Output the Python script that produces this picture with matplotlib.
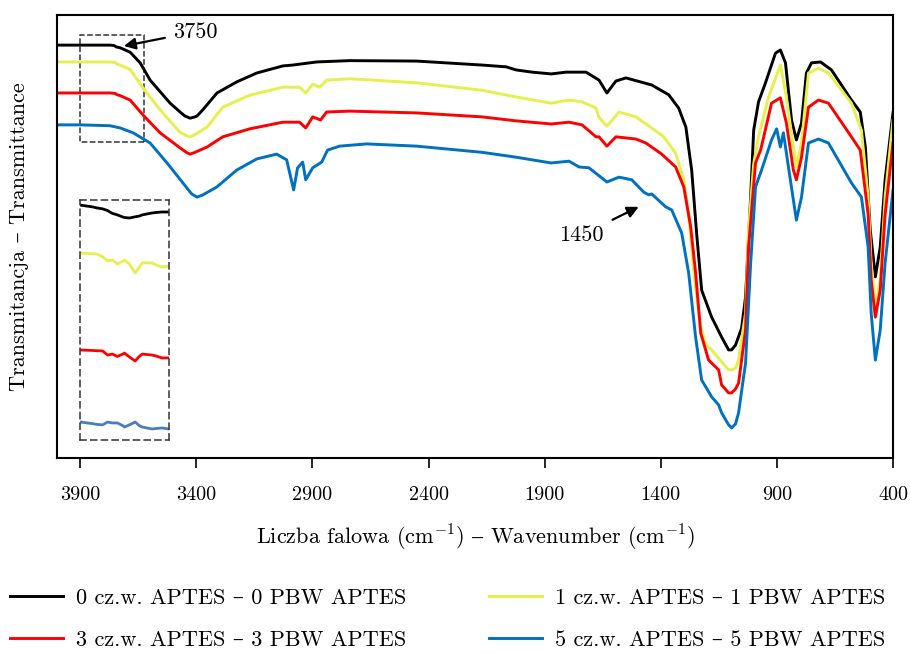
import matplotlib
matplotlib.use('Agg')
import matplotlib.pyplot as plt
from matplotlib.patches import Rectangle

plt.rcParams['font.family'] = ['cmr10', 'DejaVu Serif']
plt.rcParams['mathtext.fontset'] = 'cm'
plt.rcParams['axes.unicode_minus'] = False

# wavenumber (cm-1) and transmittance (a.u.)
wn_0 = [4000, 3900, 3771, 3754, 3745, 3728, 3685, 3642, 3599, 3513, 3470, 3449, 3427, 3406,
        3397, 3372, 3311, 3226, 3140, 3028, 2985, 2882, 2740, 2452, 2169, 2066, 2023, 1954,
        1872, 1808, 1722, 1666, 1632, 1593, 1550, 1439, 1366, 1323, 1292, 1267, 1245, 1224,
        1181, 1138, 1108, 1095, 1078, 1052, 1035, 1013, 1000, 979, 949, 906, 885, 863, 837,
        816, 794, 773, 751, 712, 665, 579, 541, 519, 498, 476, 455, 434, 400]
t_0 = [93.2, 93.2, 93.2, 93.1, 92.8, 92.6, 91.6, 89.2, 85.3, 80.1, 78.1, 77.2, 76.7, 77.0,
       77.2, 78.6, 82.4, 84.9, 86.9, 88.5, 88.7, 89.4, 89.7, 89.6, 88.7, 88.3, 87.6, 87.1,
       86.7, 87.1, 87.1, 85.3, 82.4, 85.1, 85.8, 84.2, 82.0, 79.0, 74.7, 65.0, 50.3, 37.9,
       31.8, 27.3, 24.4, 24.4, 25.5, 29.3, 36.3, 58.9, 74.0, 80.4, 84.7, 91.4, 92.1, 89.2, 76.3,
       71.8, 75.6, 86.9, 89.2, 89.4, 87.6, 80.8, 78.1, 70.2, 51.5, 40.9, 47.6, 62.8, 77.9]

wn_1 = [4000, 3900, 3771, 3750, 3741, 3728, 3685, 3629, 3556, 3470, 3440, 3427, 3410, 3354,
        3286, 3170, 3028, 2955, 2929, 2899, 2869, 2839, 2740, 2452, 2169, 2023, 1872, 1795,
        1739, 1679, 1666, 1632, 1580, 1507, 1439, 1387, 1336, 1301, 1280, 1258, 1228, 1207,
        1181, 1138, 1108, 1095, 1078, 1065, 1035, 1022, 1000, 979, 936, 885, 859, 829, 816,
        794, 764, 721, 678, 579, 536, 507, 494, 476, 455, 434, 400]
t_1 = [89.4, 89.4, 89.4, 89.3, 88.9, 88.7, 87.7, 83.5, 78.6, 73.5, 72.7, 72.5, 72.9, 74.7,
       79.2, 81.9, 83.7, 83.7, 82.4, 84.4, 83.7, 85.3, 85.6, 84.7, 83.0, 81.5, 80.1, 80.8,
       80.4, 79.0, 76.9, 74.9, 78.1, 77.0, 74.5, 72.5, 68.8, 62.8, 55.3, 41.8, 29.6, 25.7,
       24.4, 21.7, 19.9, 19.9, 20.3, 22.1, 32.7, 51.5, 66.4, 72.5, 81.5, 88.7, 81.5, 70.2,
       65.7, 71.1, 86.9, 88.0, 86.9, 80.1, 74.0, 58.9, 44.0, 34.1, 40.2, 58.9, 76.3]

wn_2 = [4000, 3900, 3771, 3750, 3741, 3728, 3685, 3629, 3556, 3470, 3440, 3427, 3410, 3354,
        3286, 3170, 3028, 2955, 2929, 2899, 2865, 2839, 2740, 2452, 2169, 2023, 1872, 1795,
        1739, 1679, 1666, 1632, 1593, 1507, 1464, 1396, 1336, 1301, 1271, 1250, 1228, 1194,
        1151, 1138, 1108, 1095, 1078, 1065, 1035, 1022, 992, 970, 923, 885, 859, 829, 816,
        794, 764, 721, 678, 579, 541, 507, 494, 476, 455, 434, 400]
t_2 = [82.4, 82.4, 82.4, 82.3, 82.0, 81.8, 80.8, 77.4, 73.4, 70.0, 68.9, 68.6, 68.9, 70.2,
       72.5, 74.3, 75.8, 75.8, 74.5, 77.0, 76.3, 78.1, 78.3, 77.9, 77.0, 76.1, 75.4, 75.8,
       75.2, 72.5, 72.5, 70.4, 72.5, 72.0, 71.1, 68.6, 65.7, 61.2, 52.1, 41.8, 28.2, 22.1,
       19.9, 16.5, 14.7, 14.7, 15.6, 16.9, 28.9, 47.6, 66.6, 69.5, 80.1, 81.3, 75.6, 65.0,
       62.8, 67.9, 79.2, 80.8, 80.1, 72.5, 69.5, 55.0, 40.2, 31.8, 37.9, 55.0, 71.1]

wn_3 = [4000, 3900, 3771, 3728, 3672, 3599, 3526, 3458, 3420, 3397, 3375, 3311, 3226, 3140,
        3054, 3011, 2981, 2964, 2942, 2929, 2899, 2860, 2835, 2783, 2667, 2452, 2169, 2023,
        1872, 1795, 1752, 1709, 1632, 1580, 1525, 1473, 1452, 1439, 1379, 1353, 1310, 1280,
        1250, 1224, 1181, 1151, 1138, 1108, 1095, 1078, 1065, 1035, 1013, 992, 966, 923, 901,
        885, 872, 842, 816, 794, 764, 721, 678, 579, 536, 507, 494, 476, 455, 434, 400]
t_3 = [75.2, 75.2, 75.0, 74.5, 73.4, 71.1, 66.6, 62.1, 59.6, 58.9, 59.3, 61.2, 65.0, 67.5,
       68.6, 67.3, 60.5, 65.5, 66.8, 62.8, 65.5, 66.8, 69.5, 70.4, 70.9, 70.4, 69.0, 67.9,
       66.6, 67.0, 65.7, 65.5, 62.3, 63.4, 62.8, 60.0, 59.4, 59.6, 56.7, 56.0, 50.8, 41.8,
       27.3, 17.6, 13.8, 12.0, 10.2, 7.5, 6.8, 7.7, 10.2, 21.4, 44.0, 61.2, 65.0, 71.8, 74.3,
       70.2, 73.4, 62.8, 53.7, 58.9, 71.1, 72.0, 71.1, 62.1, 58.9, 47.6, 32.7, 22.1, 28.9,
       44.0, 60.5]

# magnified 3900-3700 region shown in the inset (a.u.)
ins_wn = [3900, 3871, 3862, 3849, 3838, 3833, 3827, 3816, 3804, 3800, 3789, 3776, 3767,
          3760, 3738, 3729, 3716, 3700]
ins_0 = [97.9, 97.1, 96.7, 96.3, 95.6, 95.0, 94.4, 93.8, 92.9, 92.7, 92.5, 93.0, 93.3,
         93.8, 94.6, 94.8, 95.0, 95.0]
ins_1 = [77.9, 77.6, 77.5, 76.3, 74.6, 74.8, 75.0, 73.3, 74.5, 75.0, 73.3, 69.6, 72.0,
         73.8, 73.8, 72.9, 72.1, 72.5]
ins_2 = [37.5, 37.3, 37.2, 37.1, 35.4, 35.6, 35.8, 34.8, 35.8, 36.2, 34.6, 32.9, 34.8,
         35.8, 35.4, 35.0, 34.2, 34.2]
ins_3 = [7.5, 6.8, 6.5, 6.3, 7.5, 7.3, 7.1, 7.1, 6.0, 5.4, 6.3, 7.5, 6.0, 5.4, 4.6, 4.8,
         5.0, 4.6]

labels = ['0 cz.w. APTES – 0 PBW APTES', '1 cz.w. APTES – 1 PBW APTES',
          '3 cz.w. APTES – 3 PBW APTES', '5 cz.w. APTES – 5 PBW APTES']
colors = ['#000000', '#e6ef4c', '#ff0000', '#0070c0']
ins_colors = ['#000000', '#e6ef4c', '#ff0000', '#4a7ebb']
ticks = [3900, 3400, 2900, 2400, 1900, 1400, 900, 400]

fig = plt.figure(figsize=(9.1, 6.53), dpi=100)
ax = fig.add_axes([57 / 910, 1 - 458 / 653, 836 / 910, 443 / 653])

lines = []
for wn, t, c, lab in zip([wn_0, wn_1, wn_2, wn_3], [t_0, t_1, t_2, t_3], colors, labels):
    ln, = ax.plot(wn, t, color=c, lw=2.1, label=lab, solid_joinstyle='round')
    lines.append(ln)

ax.set_xlim(4000, 400)
ax.set_ylim(0, 100)
ax.set_xticks(ticks)
ax.set_yticks([])
ax.tick_params(axis='x', direction='out', length=7, width=1.2, labelsize=14.5, pad=13)
for s in ax.spines.values():
    s.set_linewidth(1.5)
ax.set_xlabel('Liczba falowa (cm$^{-1}$) $\\endash$ Wavenumber (cm$^{-1}$)',
              fontsize=16, labelpad=14)
ax.set_ylabel('Transmitancja – Transmittance', fontsize=16, labelpad=20)

# dashed box marking the region magnified in the inset
ax.add_patch(Rectangle((3625, 71.3), 275, 24.2, fill=False, ls='--', lw=1.1, ec='#333333'))

ax.annotate('3750', xy=(3712, 93.0), xytext=(3500, 96.2), fontsize=16,
            ha='left', va='center',
            arrowprops=dict(arrowstyle='-|>', color='black', lw=1.6, mutation_scale=17,
                            shrinkA=4, shrinkB=0))
ax.annotate('1450', xy=(1495, 56.7), xytext=(1838, 50.3), fontsize=16,
            ha='left', va='center',
            arrowprops=dict(arrowstyle='-|>', color='black', lw=1.6, mutation_scale=17,
                            shrinkA=5, shrinkB=0))

# inset
ins = fig.add_axes([80 / 910, 1 - 440 / 653, 89 / 910, 240 / 653])
for y, c in zip([ins_0, ins_1, ins_2, ins_3], ins_colors):
    ins.plot(ins_wn, y, color=c, lw=2.0, solid_joinstyle='round')
ins.set_xlim(3900, 3700)
ins.set_ylim(0, 100)
ins.set_xticks([])
ins.set_yticks([])
ins.patch.set_alpha(0)
for s in ins.spines.values():
    s.set_linestyle((0, (4, 3)))
    s.set_linewidth(1.1)
    s.set_edgecolor('#333333')

order = [0, 2, 1, 3]
fig.legend([lines[i] for i in order], [labels[i] for i in order],
           loc='center left', bbox_to_anchor=(0.011, 0.052), ncol=2, frameon=False,
           fontsize=16, handlelength=2.4, handletextpad=0.55, columnspacing=3.75,
           labelspacing=1.0, borderaxespad=0, borderpad=0)

fig.savefig('out.png', dpi=100)
